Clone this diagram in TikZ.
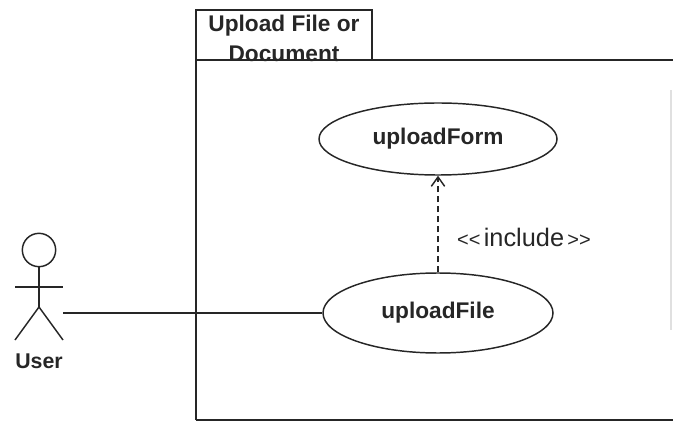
\documentclass[tikz,border=0pt]{standalone}
\usepackage{fontspec}
\setmainfont{Liberation Sans}
\usepackage{tikz}
\usetikzlibrary{shapes,arrows.meta,positioning}

\begin{document}
\begin{tikzpicture}[x=0.75pt,y=-0.75pt,line width=1.1pt,draw=black!85,text=black!85]
    \tikzstyle{usecase}=[ellipse,draw,line width=1.1pt,inner sep=0pt,font=\fontsize{17}{20}\selectfont\bfseries]
    \tikzstyle{frame line}=[line width=1.6pt]
    \tikzstyle{include}=[dash pattern=on 4.5pt off 3pt,-{Straight Barb[length=7pt,width=10pt]}]
    \tikzstyle{annot}=[font=\fontsize{19}{22}\selectfont]

    \useasboundingbox (0,0) rectangle (673,423);

    % Draw the package frame and its tab
    \node[font=\fontsize{17}{22.5}\selectfont\bfseries,align=center,inner sep=0pt] (tab) at (284,38) {Upload File or\\Document};
    \draw[frame line] (196,420) -- (196,10) -- (372,10) -- (372,60);
    \draw[frame line] (196,60) -- (673,60);
    \draw[frame line] (196,420) -- (673,420);
    \draw[black!12,line width=1pt] (671,90) -- (671,330);

    % Draw the use cases
    \node[usecase,minimum width=178.5pt,minimum height=54pt] (uploadForm) at (438,139) {uploadForm};
    \node[usecase,minimum width=172.5pt,minimum height=60pt] (uploadFile) at (438,313) {uploadFile};

    % Draw the actor
    \node[circle,draw,minimum size=25pt,inner sep=0pt] (head) at (39,250) {};
    \coordinate (hip) at (39,307);
    \draw (head) -- (hip);
    \draw (15,287) -- (63,287);
    \foreach \side in {15,63}
        \draw (hip) -- (\side,340);
    \node[font=\fontsize{16}{20}\selectfont\bfseries] (user) at (39,361) {User};
    \coordinate (hand) at (63,313);

    % Connect the actor with its use case
    \draw (hand) -- (uploadFile.west);

    % Include relation
    \draw[include] (uploadFile.north) -- (uploadForm.south);
    \node[annot] (inc) at (524,237) {{\fontsize{15}{16}\selectfont<{}<\,}include{\fontsize{15}{16}\selectfont\,>{}>}};

\end{tikzpicture}
\end{document}
